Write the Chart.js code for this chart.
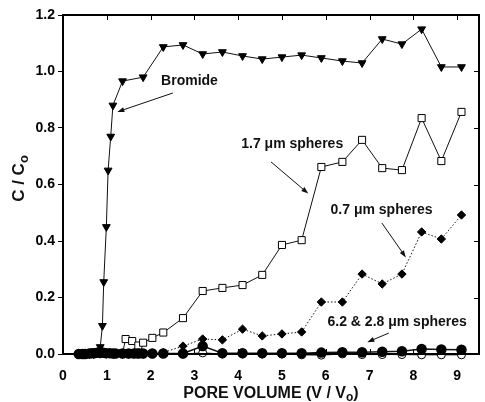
<!DOCTYPE html>
<html>
<head>
<meta charset="utf-8">
<script src="https://cdn.jsdelivr.net/npm/chart.js@4"></script>
<style>
  body { margin: 0; background: #fff; }
  #wrap { width: 485px; height: 402px; }
</style>
</head>
<body>
<div id="wrap"><canvas id="chart" width="485" height="402"></canvas></div>
<script>
// data
const bromideX = [0.4, 0.5, 0.6, 0.7, 0.78, 0.85, 0.9, 0.93, 0.99, 1.03, 1.09, 1.14, 1.36, 1.83, 2.29, 2.74, 3.19, 3.64, 4.1, 4.55, 5.0, 5.45, 5.9, 6.38, 6.83, 7.29, 7.74, 8.19, 8.64, 9.1];
const bromideY = [0, 0, 0, 0, 0.005, 0.025, 0.1, 0.255, 0.45, 0.65, 0.77, 0.88, 0.966, 0.98, 1.087, 1.094, 1.062, 1.069, 1.055, 1.044, 1.051, 1.058, 1.048, 1.037, 1.03, 1.115, 1.097, 1.15, 1.016, 1.016];

const s17X = [1.36, 1.43, 1.58, 1.72, 1.83, 2.04, 2.29, 2.74, 3.19, 3.64, 4.1, 4.55, 5.0, 5.45, 5.9, 6.38, 6.83, 7.29, 7.74, 8.19, 8.64, 9.1];
const s17Y = [0.003, 0.053, 0.046, 0.03, 0.04, 0.057, 0.076, 0.127, 0.223, 0.234, 0.244, 0.28, 0.386, 0.403, 0.662, 0.68, 0.758, 0.658, 0.651, 0.835, 0.683, 0.857];

const s07X = [0.4, 0.55, 0.7, 0.85, 1.0, 1.15, 1.36, 1.5, 1.62, 1.72, 1.83, 2.04, 2.29, 2.74, 3.19, 3.64, 4.1, 4.55, 5.0, 5.45, 5.9, 6.38, 6.83, 7.29, 7.74, 8.19, 8.64, 9.1];
const s07Y = [0, 0, 0, 0, 0, 0, 0, 0, 0, 0, 0, 0, 0.005, 0.028, 0.053, 0.05, 0.088, 0.064, 0.071, 0.078, 0.184, 0.184, 0.283, 0.248, 0.283, 0.432, 0.407, 0.492];

const s62X = [0.36, 0.44, 0.5, 0.6, 0.66, 0.72, 0.78, 0.84, 0.92, 0.98, 1.06, 1.14, 1.2, 1.36, 1.5, 1.62, 1.72, 1.83, 2.04, 2.29, 2.74, 3.19, 3.64, 4.1, 4.55, 5.0, 5.45, 5.9, 6.38, 6.83, 7.29, 7.74, 8.19, 8.64, 9.1];
const s62Y = [0, 0, 0, 0.002, 0.003, 0.003, 0.004, 0.005, 0.004, 0.003, 0.003, 0.002, 0.002, 0.002, 0.002, 0.002, 0.002, 0.002, 0.002, 0.002, 0.002, 0.028, 0.003, 0.003, 0.003, 0.003, 0.003, 0.005, 0.006, 0.006, 0.008, 0.01, 0.018, 0.016, 0.015];

const s28X = [2.74, 3.19, 3.64, 4.1, 4.55, 5.0, 5.45, 5.9, 6.38, 6.83, 7.29, 7.74, 8.19, 8.64, 9.1];
const s28Y = [0, 0.004, 0, 0, 0, 0, -0.003, -0.004, 0, -0.002, -0.002, -0.002, -0.003, -0.003, -0.003];

const xTicks = [0, 1, 2, 3, 4, 5, 6, 7, 8, 9];
const yTicks = [0, 0.2, 0.4, 0.6, 0.8, 1.0, 1.2];

const pts = (xs, ys) => xs.map((x, i) => ({ x: x, y: ys[i] }));

const FONT = "Liberation Sans, Arial, Helvetica, sans-serif";
const INK = "#111";

// labels placed in data units, arrows go from -> to
const notes = [
  { text: "Bromide", x: 2.24, y: 0.966, from: [2.51, 0.924], to: [1.24, 0.857] },
  { text: "1.7 \u03bcm spheres", x: 4.07, y: 0.743, from: [4.75, 0.68], to: [5.6, 0.568] },
  { text: "0.7 \u03bcm spheres", x: 6.11, y: 0.51, from: [7.28, 0.464], to: [7.83, 0.342] },
  { text: "6.2 & 2.8 \u03bcm spheres", x: 6.04, y: 0.113, from: [7.44, 0.074], to: [6.95, 0.042] }
];

function arrow(ctx, x1, y1, x2, y2) {
  const a = Math.atan2(y2 - y1, x2 - x1);
  const L = 7, W = 2.5;
  ctx.beginPath();
  ctx.moveTo(x1, y1);
  ctx.lineTo(x2 - Math.cos(a) * L * 0.8, y2 - Math.sin(a) * L * 0.8);
  ctx.stroke();
  ctx.beginPath();
  ctx.moveTo(x2, y2);
  ctx.lineTo(x2 - Math.cos(a) * L - Math.sin(a) * W, y2 - Math.sin(a) * L + Math.cos(a) * W);
  ctx.lineTo(x2 - Math.cos(a) * L + Math.sin(a) * W, y2 - Math.sin(a) * L - Math.cos(a) * W);
  ctx.closePath();
  ctx.fill();
}

const decor = {
  id: "decor",
  afterDraw(chart) {
    const { ctx, chartArea: a, scales: { x, y } } = chart;
    ctx.save();
    ctx.strokeStyle = "#000";
    ctx.fillStyle = "#000";

    // frame
    ctx.lineWidth = 2;
    ctx.strokeRect(a.left, a.top, a.right - a.left, a.bottom - a.top);

    // inward ticks on bottom, top and right
    ctx.lineWidth = 1;
    ctx.beginPath();
    xTicks.forEach(v => {
      const px = Math.round(x.getPixelForValue(v)) + 0.5;
      ctx.moveTo(px, a.top); ctx.lineTo(px, a.top + 5);
      ctx.moveTo(px, a.bottom); ctx.lineTo(px, a.bottom - 5);
    });
    yTicks.forEach(v => {
      const py = Math.round(y.getPixelForValue(v)) + 0.5;
      ctx.moveTo(a.right, py); ctx.lineTo(a.right - 5, py);
    });
    ctx.stroke();

    // annotations
    ctx.font = "bold 14px " + FONT;
    ctx.textBaseline = "middle";
    ctx.textAlign = "left";
    ctx.fillStyle = INK;
    ctx.strokeStyle = INK;
    notes.forEach(n => {
      ctx.fillText(n.text, x.getPixelForValue(n.x), y.getPixelForValue(n.y));
      arrow(ctx,
        x.getPixelForValue(n.from[0]), y.getPixelForValue(n.from[1]),
        x.getPixelForValue(n.to[0]), y.getPixelForValue(n.to[1]));
    });

    // x title with subscript
    ctx.font = "bold 16px " + FONT;
    ctx.textBaseline = "alphabetic";
    const t1 = "PORE VOLUME (V / V";
    const w1 = ctx.measureText(t1).width;
    ctx.font = "bold 12px " + FONT;
    const wo = ctx.measureText("o").width;
    ctx.font = "bold 16px " + FONT;
    const cx = (a.left + a.right) / 2;
    const w3 = ctx.measureText(")").width;
    const sx = cx - (w1 + wo + w3) / 2;
    const by = 398;
    ctx.fillText(t1, sx, by);
    ctx.font = "bold 12px " + FONT;
    ctx.fillText("o", sx + w1, by + 3);
    ctx.font = "bold 16px " + FONT;
    ctx.fillText(")", sx + w1 + wo, by);

    // y title, rotated
    ctx.font = "bold 17px " + FONT;
    ctx.translate(24, (a.top + a.bottom) / 2 - 6);
    ctx.rotate(-Math.PI / 2);
    const s1 = "C / C";
    const v1 = ctx.measureText(s1).width;
    ctx.font = "bold 13px " + FONT;
    const vo = ctx.measureText("o").width;
    const start = -(v1 + vo) / 2;
    ctx.font = "bold 17px " + FONT;
    ctx.fillText(s1, start, 0);
    ctx.font = "bold 13px " + FONT;
    ctx.fillText("o", start + v1, 4);
    ctx.restore();
  }
};

new Chart(document.getElementById("chart"), {
  type: "scatter",
  data: {
    datasets: [
      {
        label: "6.2 um",
        data: pts(s62X, s62Y),
        showLine: true,
        borderColor: INK,
        borderWidth: 1.5,
        pointStyle: "circle",
        pointRadius: 4.5,
        pointBackgroundColor: "#000",
        pointBorderColor: "#000"
      },
      {
        label: "2.8 um",
        data: pts(s28X, s28Y),
        showLine: true,
        borderColor: INK,
        borderWidth: 1,
        pointStyle: "circle",
        pointRadius: 4,
        pointBackgroundColor: "#fff",
        pointBorderColor: "#000"
      },
      {
        label: "0.7 um",
        data: pts(s07X, s07Y),
        showLine: true,
        borderColor: INK,
        borderWidth: 1,
        borderDash: [1.5, 2],
        pointStyle: "rectRot",
        pointRadius: 4.2,
        pointBackgroundColor: "#000",
        pointBorderColor: "#000"
      },
      {
        label: "1.7 um",
        data: pts(s17X, s17Y),
        showLine: true,
        borderColor: INK,
        borderWidth: 1,
        pointStyle: "rect",
        pointRadius: 5,
        pointBackgroundColor: "#fff",
        pointBorderColor: "#000",
        pointBorderWidth: 1
      },
      {
        label: "Bromide",
        data: pts(bromideX, bromideY),
        showLine: true,
        borderColor: INK,
        borderWidth: 1,
        pointStyle: "triangle",
        pointRotation: 180,
        pointRadius: 4.5,
        pointBackgroundColor: "#000",
        pointBorderColor: "#000"
      }
    ]
  },
  options: {
    responsive: false,
    animation: false,
    clip: false,
    layout: { padding: { top: 15, right: 2, left: 0, bottom: 0 } },
    plugins: { legend: { display: false }, tooltip: { enabled: false } },
    scales: {
      x: {
        type: "linear",
        min: 0,
        max: 9.5,
        afterBuildTicks: s => { s.ticks = xTicks.map(v => ({ value: v })); },
        afterFit: s => { s.height = 48; },
        grid: { display: false },
        border: { display: false },
        ticks: {
          color: "#000",
          padding: 6,
          font: { family: FONT, size: 14, weight: "bold" },
          callback: v => String(v)
        }
      },
      y: {
        min: 0,
        max: 1.2,
        afterBuildTicks: s => { s.ticks = yTicks.map(v => ({ value: v })); },
        afterFit: s => { s.width = 63; },
        grid: { display: true, drawOnChartArea: false, drawTicks: true, tickLength: 5, color: "#000" },
        border: { display: false },
        ticks: {
          color: "#000",
          padding: 3,
          font: { family: FONT, size: 14, weight: "bold" },
          callback: v => v.toFixed(1)
        }
      }
    }
  },
  plugins: [decor]
});
</script>
</body>
</html>
